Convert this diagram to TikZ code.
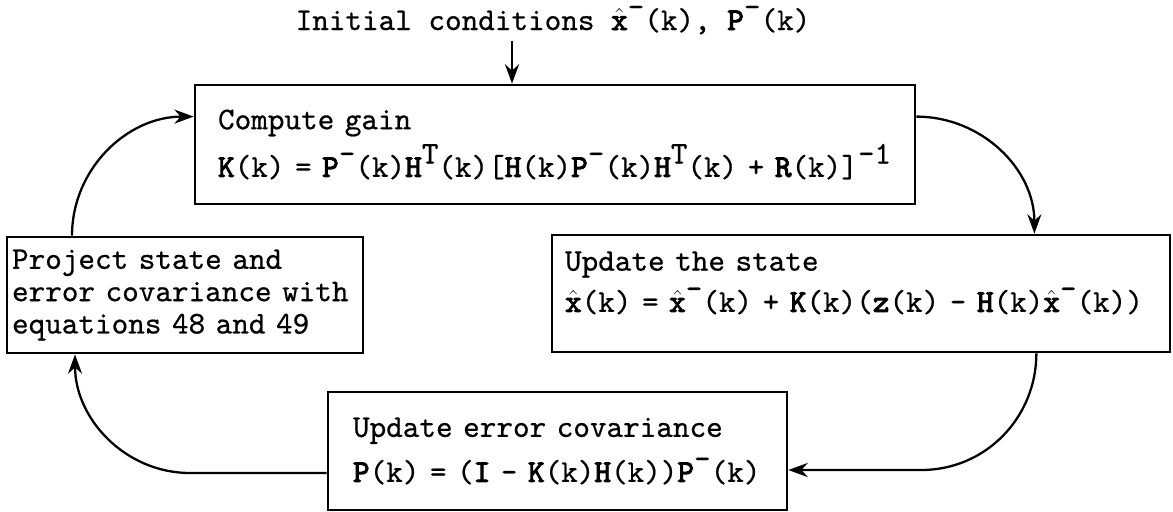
\documentclass[tikz,border=0pt]{standalone}
\usepackage{fontspec}
\setmonofont{lmmono10-regular.otf}[UprightFeatures={FakeBold=0.6},
    BoldFont=lmmono10-regular.otf,BoldFeatures={FakeBold=3}]
\usetikzlibrary{arrows.meta,calc}
\newcommand\xh{$\hat{\hbox{\bfseries x}}$}
\newcommand\hi[1]{\raisebox{0.42em}{#1}}
\newcommand\mi{\hi{-}}

\begin{document}
\begin{tikzpicture}[x=0.02cm,y=0.02cm,
        font=\ttfamily\fontsize{18}{18.4}\selectfont,
        box/.style={draw,line width=1.6pt,align=left,inner ysep=0pt},
        flow/.style={line width=1.3pt,-{Stealth[length=11pt,width=8pt]}}]
        \useasboundingbox (0,0) rectangle (1173,-511);
        % the four boxes of the loop
        \node[box,text width=13.48cm,inner xsep=0.46cm,minimum height=2.38cm] (gain) at (555,-144.5)
            {Compute gain\\[3.2pt]
             \textbf{K}(k) = \textbf{P}\mi(k)\textbf{H}\hi{T}(k)[\textbf{H}(k)\textbf{P}\mi(k)\textbf{H}\hi{T}(k) + \textbf{R}(k)]\hi{-1}};
        \node[box,text width=11.84cm,inner xsep=0.26cm,minimum height=2.34cm,text depth=37pt] (state) at (861,-293.5)
            {Update the state\\[5pt]
             \xh(k) = \xh\mi(k) + \textbf{K}(k)(\textbf{z}(k) - \textbf{H}(k)\xh\mi(k))};
        \node[box,text width=8.18cm,inner xsep=0.5cm,minimum height=2.36cm] (cov) at (557.5,-451)
            {Update error covariance\\[7.2pt]
             \textbf{P}(k) = (\textbf{I} - \textbf{K}(k)\textbf{H}(k))\textbf{P}\mi(k)};
        \node[box,text width=6.92cm,inner xsep=0.1cm,minimum height=2.32cm] (proj) at (185,-295)
            {Project state and\\error covariance with\\equations 48 and 49};
        \node[anchor=base] (init) at (553,-30) {Initial conditions \xh\mi(k), \textbf{P}\mi(k)};
        % connectors
        \coordinate (entry) at ([xshift=-0.86cm]gain.north);
        \draw[flow] (init.south -| entry) -- (entry);
        \draw[flow] ([yshift=-0.66cm]gain.north east) to[out=0,in=90] ([xshift=-2.74cm]state.north east);
        \coordinate (s2) at ([xshift=-2.7cm]state.south east);
        \coordinate (c2) at ([yshift=-0.38cm]cov.east);
        \draw[flow] (s2) to[out=-90,in=0] ($(s2 |- c2)+(-115,0)$) -- (c2);
        \coordinate (c3) at ([yshift=-0.44cm]cov.west);
        \coordinate (p3) at ([xshift=-2.2cm]proj.south);
        \draw[flow] (c3) -- ($(p3 |- c3)+(115,0)$) to[out=180,in=-90] (p3);
        \draw[flow] ([xshift=-2.26cm]proj.north) to[out=90,in=180] ([yshift=-0.66cm]gain.north west);
\end{tikzpicture}
\end{document}
